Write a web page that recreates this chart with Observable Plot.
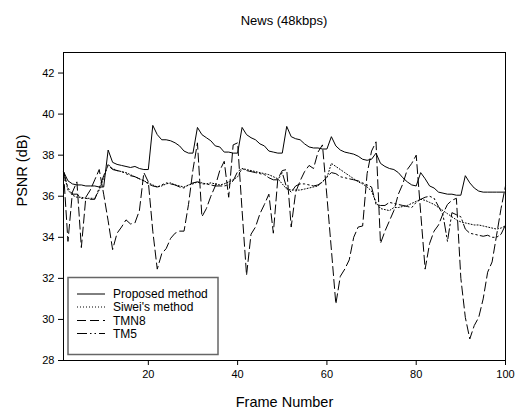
<!DOCTYPE html>
<html><head><meta charset="utf-8">
<script src="https://cdn.jsdelivr.net/npm/d3@7"></script>
<script src="https://cdn.jsdelivr.net/npm/@observablehq/plot@0.6"></script>
<style>
body{margin:0;background:#fff;font-family:"Liberation Sans",Arial,sans-serif;}
#title{width:519px;height:40px;line-height:41px;text-align:center;padding-left:49px;box-sizing:border-box;font-size:13px;color:#000;}
</style></head><body>
<div id="title">News (48kbps)</div>
<div id="chart"></div>
<script>
const frames = d3.range(1, 101);
const seriesNames = ["Proposed method", "Siwei's method", "TMN8", "TM5"];
const dashes = [null, "1,2", "9,4", "10,3,1.5,3,1.5,3"];
const yTicks = [28, 30, 32, 34, 36, 38, 40, 42];
const xTicks = [20, 40, 60, 80, 100];

const proposed = [37.2,36.75,36.6,36.55,36.55,36.5,36.5,36.5,36.45,36.45,
38.25,37.65,37.55,37.5,37.45,37.4,37.45,37.35,37.3,37.3,
39.45,39.0,38.75,38.75,38.7,38.6,38.45,38.2,38.1,38.1,
39.35,39.0,38.85,38.7,38.45,38.4,38.15,38.15,38.1,38.1,
39.35,39.0,38.85,38.75,38.55,38.45,38.2,38.15,38.1,38.1,
39.4,38.9,38.8,38.75,38.55,38.4,38.35,38.35,38.3,38.3,
38.9,38.45,38.25,38.15,38.1,38.05,37.95,37.8,37.75,37.8,
38.1,37.6,37.45,37.35,37.3,37.15,36.9,36.7,36.55,36.5,
37.15,36.85,36.5,36.4,36.2,36.15,36.1,36.1,36.05,36.05,
37.0,36.65,36.4,36.25,36.2,36.2,36.2,36.2,36.2,36.2];

const siwei = [37.2,36.3,36.05,35.95,35.95,35.9,35.9,35.9,36.3,36.9,
37.55,37.35,37.25,37.2,37.15,37.05,36.95,36.85,36.75,36.65,
36.55,36.45,36.5,36.6,36.65,36.55,36.5,36.45,36.55,36.6,
36.7,36.65,36.6,36.65,36.6,36.55,36.6,36.7,36.8,36.95,
37.35,37.3,37.25,37.2,37.15,37.1,37.05,36.95,36.85,36.6,
36.35,36.3,36.3,36.3,36.35,36.4,36.45,36.5,36.7,36.9,
37.6,37.45,37.3,37.15,37.0,36.85,36.7,36.6,36.45,36.25,
35.7,35.4,35.35,35.3,35.45,35.45,35.5,35.55,35.65,35.75,
35.85,35.8,35.7,35.6,35.45,35.3,35.15,35.0,34.85,34.75,
34.7,34.65,34.6,34.6,34.55,34.5,34.45,34.4,34.45,34.55];

const tmn8 = [37.2,33.8,36.2,36.7,33.5,35.95,36.3,36.8,37.3,36.1,
34.8,33.4,34.2,34.5,34.85,34.65,34.7,35.3,37.15,36.7,
34.3,32.45,33.2,33.45,33.95,34.2,34.3,34.3,35.6,37.3,
38.6,35.0,35.4,36.0,36.5,37.25,37.7,35.95,38.5,38.6,
35.3,32.15,34.15,34.5,35.15,35.6,36.1,34.2,36.85,37.25,
37.3,34.5,36.2,36.75,37.2,37.5,37.35,38.15,38.5,36.0,
33.4,30.75,32.1,32.45,32.9,34.0,34.5,34.55,37.1,38.2,
38.65,33.7,34.3,34.8,35.3,36.1,36.6,37.3,37.6,38.0,
35.2,32.45,33.7,34.3,34.6,35.15,35.6,35.8,35.9,32.0,
30.1,29.05,29.7,30.1,31.0,32.3,32.8,34.1,35.4,36.5];

const tm5 = [37.2,36.4,36.1,36.1,35.9,35.9,35.85,35.85,36.4,37.0,
37.5,37.3,37.25,37.2,37.1,37.0,36.95,36.85,36.75,36.6,
36.5,36.45,36.55,36.65,36.6,36.55,36.45,36.4,36.55,36.65,
36.7,36.6,36.6,36.55,36.5,36.5,36.5,36.55,36.75,37.2,
37.35,37.25,37.2,37.15,37.1,37.05,36.9,36.8,36.8,37.15,
36.4,36.2,36.5,36.6,36.6,36.55,36.5,36.55,36.7,36.95,
37.15,37.1,36.95,36.9,36.85,36.8,36.75,36.65,36.55,36.45,
35.6,35.55,35.55,35.7,35.65,35.6,35.55,35.5,35.45,35.7,
35.85,35.95,36.0,35.9,35.5,35.1,33.8,35.2,35.1,35.0,
34.4,34.2,34.15,34.1,34.05,34.1,34.0,34.0,34.15,34.6];

const allSeries = [proposed, siwei, tmn8, tm5];
const rows = allSeries.map((vals, i) => frames.map((f, j) => ({frame: f, psnr: vals[j], series: seriesNames[i]})));

const W = 519, H = 372;
const chart = Plot.plot({
  width: W, height: H,
  marginTop: 12, marginBottom: 52, marginLeft: 63, marginRight: 14,
  style: {fontFamily: "'Liberation Sans', Arial, sans-serif", fontSize: "11px", background: "white", color: "black", overflow: "visible"},
  x: {domain: [1, 100]},
  y: {domain: [28, 43]},
  marks: [
    Plot.frame({stroke: "black", strokeWidth: 1}),
    Plot.axisX({ticks: xTicks, tickSize: 5, tickPadding: 5, label: null, fontSize: 11}),
    Plot.axisY({ticks: yTicks, tickSize: 5, tickPadding: 4, label: null, fontSize: 11}),
    ...rows.map((r, i) => Plot.line(r, {x: "frame", y: "psnr", stroke: "black", strokeWidth: 1, strokeDasharray: dashes[i] ?? undefined})),
    Plot.text(["PSNR (dB)"], {text: d => d, frameAnchor: "left", dx: -41, rotate: -90, fontSize: 14.5}),
    Plot.text(["Frame Number"], {text: d => d, frameAnchor: "bottom", dy: 46, fontSize: 14.5})
  ]
});
document.getElementById("chart").appendChild(chart);

// legend inside the plot area
const svg = d3.select(chart);
const lg = svg.append("g").attr("font-family", "'Liberation Sans', Arial, sans-serif").attr("font-size", 12).attr("text-anchor", "start");
lg.append("rect").attr("x", 68).attr("y", 237.5).attr("width", 150).attr("height", 77)
  .attr("fill", "white").attr("stroke", "#666").attr("stroke-width", 1.5);
const rowY = [254, 267, 280.5, 293.5];
seriesNames.forEach((name, i) => {
  lg.append("line").attr("x1", 77).attr("x2", 105).attr("y1", rowY[i]).attr("y2", rowY[i])
    .attr("stroke", "black").attr("stroke-width", 1).attr("stroke-dasharray", dashes[i] || null);
  lg.append("text").attr("x", 113).attr("y", rowY[i]).attr("dy", "0.35em").attr("text-anchor", "start").text(name);
});
</script>
</body></html>
